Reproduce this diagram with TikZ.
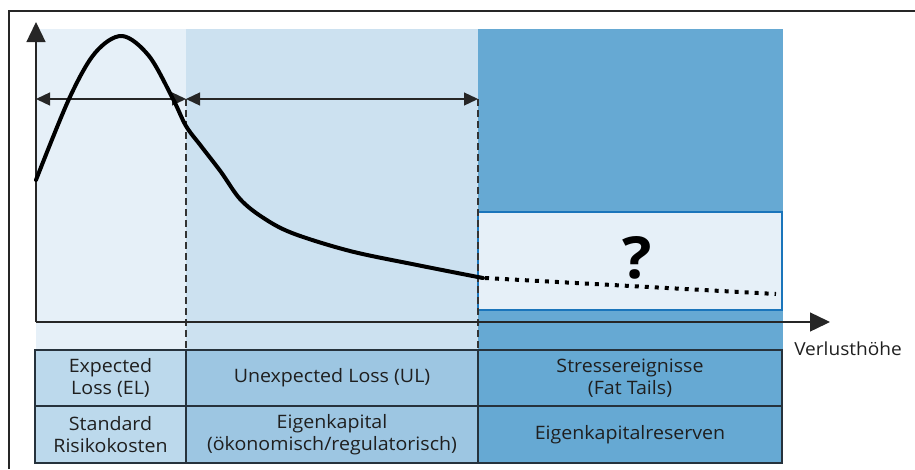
\documentclass[tikz,border=0pt]{standalone}
\usepackage{fontspec}
\setmainfont{Open Sans}[FakeStretch=1.06]
\usetikzlibrary{arrows.meta}
\definecolor{bandA}{HTML}{E6F0F8}
\definecolor{bandB}{HTML}{CCE1F0}
\definecolor{bandC}{HTML}{66A9D3}
\definecolor{cellA}{HTML}{BCD9EC}
\definecolor{cellB}{HTML}{9DC6E2}
\definecolor{boxblue}{HTML}{1A75BB}
\definecolor{tabline}{HTML}{26323C}
\definecolor{dashgray}{HTML}{333333}
\tikzset{
  cell/.style={draw=tabline, line width=1.6pt, inner sep=0pt, align=center,
    font=\fontsize{18.5}{22.5}\selectfont, text=black!88},
  axisline/.style={line width=1.4pt, black!85},
  spanarrow/.style={line width=1.3pt, black!85,
    {Triangle[length=14pt,width=13pt]}-{Triangle[length=14pt,width=13pt]}},
  divider/.style={dashgray, line width=1.4pt, dash pattern=on 7pt off 4pt},
  lossline/.style={line width=4pt, black, line cap=round, line join=round},
  tailline/.style={line width=4pt, black, dash pattern=on 4pt off 6pt}
}
\begin{document}
\begin{tikzpicture}[x=1pt,y=-1pt]
\useasboundingbox (0,0) rectangle (915,469);
% background bands
\fill[bandA] (36,29) rectangle (186,350);
\fill[bandB] (186,29) rectangle (478,350);
\fill[bandC] (478,29) rectangle (783,350);
\draw[boxblue, line width=2pt, fill=bandA] (478,212) rectangle (782,310);
% outer frame
\draw[line width=1.5pt, black!85] (9,469) -- (9,11) -- (915,11);
% coordinates
\coordinate (O) at (36,322);
\coordinate (ytip) at (36,22);
\coordinate (xtip) at (830,322);
\coordinate (a0) at (36,99);
\coordinate (a1) at (186,99);
\coordinate (a2) at (478,99);
\coordinate (d1) at (186,350);
\coordinate (d2) at (478,350);
% dashed dividers
\draw[divider] (a1) -- (d1);
\draw[divider] (a2) -- (d2);
% span arrows
\draw[spanarrow] (a0) -- (a1);
\draw[spanarrow] (a1) -- (a2);
% axes
\draw[axisline, -{Triangle[length=20pt,width=19pt]}] (O) -- (ytip);
\draw[axisline, -{Triangle[length=20pt,width=19pt]}] (O) -- (xtip);
\node[font=\fontsize{18}{20}\selectfont, text=black!88] (xl) at (848,349) {Verlusthöhe};
% loss curve
\draw[lossline] plot[smooth, tension=0.55] coordinates {(36,180) (69,99) (95,53) (122,36) (149,56) (173,99) (186,126) (201,146) (221,172) (240,199) (262,217) (292,233) (350,251) (417,265) (483,278)};
\coordinate (t0) at (485,278);
\coordinate (t1) at (776,294);
\draw[tailline] (t0) -- (t1);
\node[font=\bfseries\fontsize{58}{58}\selectfont] (q) at (637,258) {?};
% table
\node[cell, fill=cellA, minimum width=151pt, minimum height=56pt] (el) at (110.5,378) {Expected\\Loss (EL)};
\node[cell, fill=cellB, minimum width=292pt, minimum height=56pt] (ul) at (332,378) {Unexpected Loss (UL)};
\node[cell, fill=bandC, minimum width=304pt, minimum height=56pt] (st) at (630,378) {Stressereignisse\\(Fat Tails)};
\node[cell, fill=cellA, minimum width=151pt, minimum height=57pt] (sr) at (110.5,434.5) {Standard\\Risikokosten};
\node[cell, fill=cellB, minimum width=292pt, minimum height=57pt] (ek) at (332,434.5) {Eigenkapital\\(ökonomisch/regulatorisch)};
\node[cell, fill=bandC, minimum width=304pt, minimum height=57pt] (er) at (630,434.5) {Eigenkapitalreserven};
\end{tikzpicture}
\end{document}
